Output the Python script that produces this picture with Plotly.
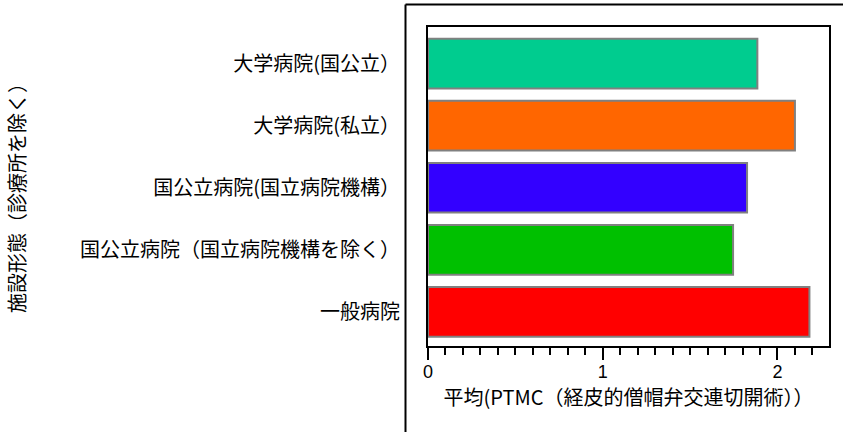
import plotly.graph_objects as go

categories = [
    "一般病院",
    "国公立病院（国立病院機構を除く）",
    "国公立病院(国立病院機構）",
    "大学病院(私立）",
    "大学病院(国公立）",
]
values = [2.183, 1.746, 1.826, 2.100, 1.885]
colors = ["#FF0000", "#00C000", "#3300FF", "#FF6600", "#00CC8F"]
x_title = "平均(PTMC（経皮的僧帽弁交連切開術））"
y_title = "施設形態（診療所を除く）"

FONT = "Noto Sans CJK JP, Noto Sans, sans-serif"

fig = go.Figure(
    go.Bar(
        x=values,
        y=categories,
        orientation="h",
        marker=dict(color=colors, line=dict(color="#808080", width=2)),
        width=0.8,
    )
)

W, H = 843, 432
L, R, T, B = 428, 14, 27, 86
pw, ph = W - L - R, H - T - B

def px_x(p):
    return (p - L) / pw

def px_y(p):
    return (H - B - p) / ph

fig.update_layout(
    width=W,
    height=H,
    margin=dict(l=L, r=R, t=T, b=B),
    paper_bgcolor="white",
    plot_bgcolor="white",
    font=dict(family=FONT, size=20, color="black"),
    showlegend=False,
    xaxis=dict(
        range=[0, 2.295],
        dtick=1,
        tick0=0,
        ticks="outside",
        ticklen=12,
        tickwidth=1.5,
        tickcolor="black",
        showgrid=False,
        zeroline=False,
        showline=True,
        linecolor="black",
        linewidth=2,
        mirror=True,
        minor=dict(dtick=0.1, ticks="outside", ticklen=7, tickwidth=1.5, tickcolor="black", showgrid=False),
        tickfont=dict(size=18, family="Liberation Sans, Arial, sans-serif"),
        ticklabelstandoff=-4,
        title=dict(text=x_title, font=dict(size=20), standoff=2),
    ),
    yaxis=dict(
        range=[-0.55, 4.59],
        showgrid=False,
        zeroline=False,
        showline=True,
        linecolor="black",
        linewidth=2,
        mirror=True,
        ticks="",
        ticklabelstandoff=22,
        tickfont=dict(size=20),
    ),
    shapes=[
        dict(type="line", xref="paper", yref="paper",
             x0=px_x(405.5), x1=1.2, y0=px_y(4.5), y1=px_y(4.5),
             line=dict(color="black", width=2)),
        dict(type="line", xref="paper", yref="paper",
             x0=px_x(405.5), x1=px_x(405.5), y0=px_y(4.5), y1=-0.5,
             line=dict(color="black", width=2)),
    ],
    annotations=[
        dict(text=y_title, xref="paper", yref="paper",
             x=px_x(16), y=px_y(193), textangle=-90, showarrow=False,
             font=dict(size=20), xanchor="center", yanchor="middle"),
    ],
)

fig.write_html(
    "out.html",
    config={"displayModeBar": False},
    post_script="document.body.style.margin='0';document.body.style.overflow='hidden';",
)
